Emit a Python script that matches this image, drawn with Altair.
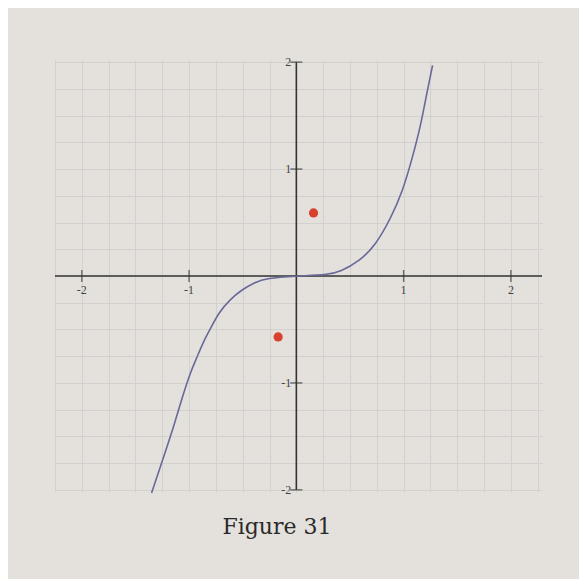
import altair as alt
import pandas as pd

# Curve values
CURVE_X = [-1.35, -1.25, -1.15, -1.06, -0.98, -0.93, -0.87, -0.79, -0.72, -0.62, -0.51,
           -0.39, -0.28, 0.0, 0.29, 0.41, 0.59, 0.74, 0.88, 0.99, 1.08, 1.16, 1.22, 1.27]
CURVE_Y = [-2.03, -1.73, -1.43, -1.12, -0.88, -0.77, -0.62, -0.47, -0.34, -0.22, -0.13,
           -0.06, -0.02, 0.0, 0.01, 0.04, 0.14, 0.29, 0.54, 0.79, 1.10, 1.41, 1.73, 1.97]

# Red points
PT_X = [0.16, -0.17]
PT_Y = [0.59, -0.57]

# Axes and grid
GRID = [-2.25, -2.0, -1.75, -1.5, -1.25, -1.0, -0.75, -0.5, -0.25, 0.0,
        0.25, 0.5, 0.75, 1.0, 1.25, 1.5, 1.75, 2.0, 2.25]
XTICKS = [-2, -1, 1, 2]
XLABELS = ["-2", "-1", "1", "2"]
YTICKS = [-2, -1, 1, 2]
YLABELS = ["-2", "-1", "1", "2"]
XRANGE = [-2.25, 2.29]
YRANGE = [-2.0, 2.0]
CAPTION = "Figure 31"

PAPER = "#e4e1dd"
GRIDC = "#d3d1ce"
INK = "#333333"

xs = alt.Scale(domain=[-2.25, 2.29], nice=False, zero=False)
ys = alt.Scale(domain=[-2.02, 2.02], nice=False, zero=False)
xax = alt.Axis(values=GRID, grid=True, gridColor=GRIDC, gridWidth=1, labels=False,
               ticks=False, domain=False, title=None)
yax = alt.Axis(values=GRID, grid=True, gridColor=GRIDC, gridWidth=1, labels=False,
               ticks=False, domain=False, title=None)

def X(f):
    return alt.X(f, type="quantitative", scale=xs, axis=xax)

def Y(f):
    return alt.Y(f, type="quantitative", scale=ys, axis=yax)

curve = pd.DataFrame({"x": CURVE_X, "y": CURVE_Y})
pts = pd.DataFrame({"x": PT_X, "y": PT_Y})
xaxis_df = pd.DataFrame({"x": [XRANGE[0]], "x2": [XRANGE[1]], "y": [0]})
yaxis_df = pd.DataFrame({"x": [0], "y": [YRANGE[0]], "y2": [YRANGE[1]]})
xt = pd.DataFrame({"x": XTICKS, "y": [0] * len(XTICKS), "label": XLABELS})
yt = pd.DataFrame({"x": [0] * len(YTICKS), "y": YTICKS, "label": YLABELS})

grid_layer = alt.Chart(curve).mark_point(opacity=0).encode(x=X("x"), y=Y("y"))

xaxis = alt.Chart(xaxis_df).mark_rule(color=INK, strokeWidth=1.6).encode(
    x=X("x"), x2="x2", y=Y("y"))
yaxis = alt.Chart(yaxis_df).mark_rule(color=INK, strokeWidth=1.6).encode(
    x=X("x"), y=Y("y"), y2="y2")
xtick = alt.Chart(xt).mark_tick(orient="vertical", size=12, thickness=1.4, color=INK).encode(
    x=X("x"), y=Y("y"))
ytick = alt.Chart(yt).mark_tick(orient="horizontal", size=12, thickness=1.4, color=INK).encode(
    x=X("x"), y=Y("y"))
xlab = alt.Chart(xt).mark_text(font="Liberation Serif", fontSize=12, color="#444444",
                               baseline="top", dy=9).encode(x=X("x"), y=Y("y"), text="label")
ylab = alt.Chart(yt).mark_text(font="Liberation Serif", fontSize=12, color="#444444",
                               align="right", baseline="middle", dx=-5).encode(
    x=X("x"), y=Y("y"), text="label")

line = alt.Chart(curve).mark_line(color="#68689a", strokeWidth=1.6, interpolate="basis").encode(
    x=X("x"), y=Y("y"))
dots = alt.Chart(pts).mark_circle(color="#d9412f", size=85, opacity=1).encode(
    x=X("x"), y=Y("y"))

cap = alt.Chart(pd.DataFrame({"t": [CAPTION]})).mark_text(
    font="DejaVu Serif", fontSize=22, color="#2a2a2a", align="center", baseline="middle"
).encode(x=alt.value(222), y=alt.value(467), text="t")

chart = alt.layer(grid_layer, xaxis, yaxis, xtick, ytick, xlab, ylab, line, dots, cap).properties(
    width=487, height=432,
    autosize=alt.AutoSizeParams(type="none"),
    padding={"left": 47, "top": 52, "right": 37, "bottom": 87},
    background=PAPER,
).configure_view(stroke=None, fill=PAPER)

chart.save("out.html", embed_options={"renderer": "svg", "actions": False})
